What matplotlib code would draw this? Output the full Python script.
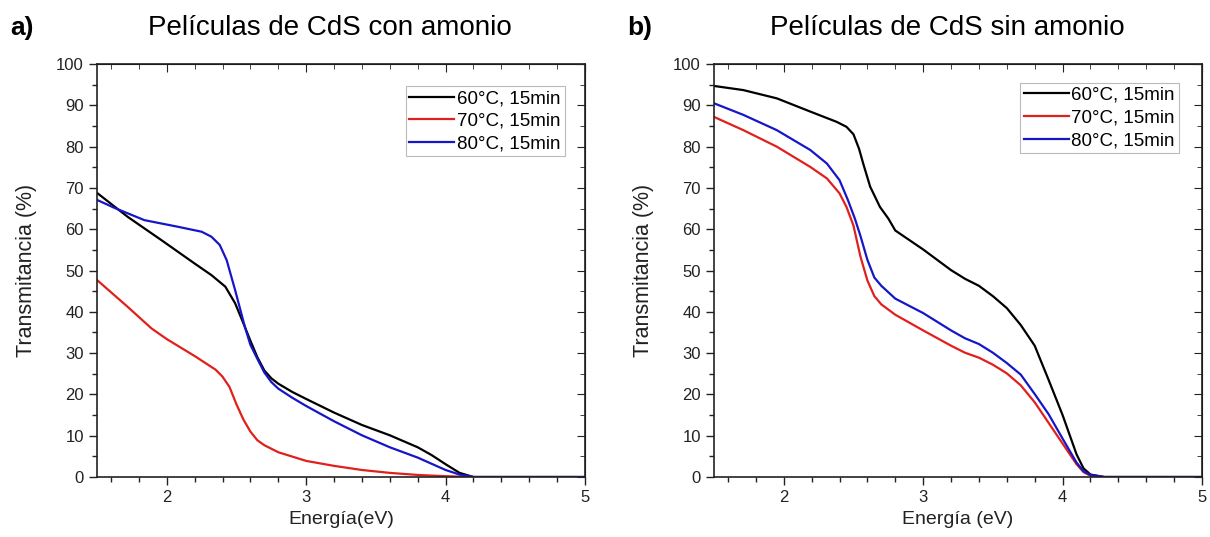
import matplotlib.pyplot as plt
from matplotlib.ticker import MultipleLocator

plt.rcParams['font.family'] = ['Liberation Sans', 'DejaVu Sans']

labels = ["60°C, 15min", "70°C, 15min", "80°C, 15min"]
colors = ["#000000", "#e0201c", "#1616c8"]

# a) con amonio
e_a60 = [1.5, 1.72, 1.96, 2.2, 2.32, 2.42, 2.49, 2.55, 2.6, 2.65, 2.7, 2.75, 2.8, 2.9, 3.0, 3.2, 3.4, 3.6, 3.8, 3.9, 4.0, 4.1, 4.2, 5.0]
t_a60 = [68.8, 63.0, 57.4, 51.7, 48.9, 46.1, 42.1, 37.2, 33.0, 29.0, 25.8, 23.9, 22.6, 20.6, 18.9, 15.6, 12.6, 10.1, 7.2, 5.3, 3.1, 1.0, 0.0, 0.0]
e_a70 = [1.5, 1.72, 1.89, 2.0, 2.2, 2.35, 2.4, 2.45, 2.5, 2.55, 2.6, 2.65, 2.7, 2.8, 3.0, 3.2, 3.4, 3.6, 3.8, 4.0, 4.2, 5.0]
t_a70 = [47.7, 41.2, 36.0, 33.4, 29.3, 26.0, 24.3, 21.8, 17.6, 13.9, 11.0, 8.9, 7.7, 6.0, 3.9, 2.7, 1.7, 1.0, 0.5, 0.2, 0.0, 0.0]
e_a80 = [1.5, 1.63, 1.84, 2.08, 2.25, 2.32, 2.38, 2.43, 2.49, 2.56, 2.6, 2.65, 2.7, 2.75, 2.8, 2.9, 3.0, 3.2, 3.4, 3.6, 3.8, 4.0, 4.1, 4.2, 5.0]
t_a80 = [67.1, 65.1, 62.2, 60.6, 59.4, 58.2, 56.2, 52.5, 45.3, 36.4, 32.0, 28.6, 25.3, 23.0, 21.4, 19.2, 17.2, 13.5, 10.1, 7.2, 4.7, 1.7, 0.6, 0.0, 0.0]

# b) sin amonio
e_b60 = [1.5, 1.71, 1.95, 2.19, 2.38, 2.45, 2.5, 2.54, 2.57, 2.62, 2.69, 2.75, 2.8, 3.0, 3.2, 3.3, 3.4, 3.5, 3.6, 3.7, 3.8, 3.9, 4.0, 4.1, 4.15, 4.2, 4.3, 5.0]
t_b60 = [94.7, 93.7, 91.7, 88.5, 86.0, 84.8, 83.0, 79.5, 75.9, 70.3, 65.4, 62.6, 59.7, 55.1, 50.1, 48.0, 46.3, 43.8, 40.9, 36.8, 31.8, 23.5, 15.0, 5.5, 2.1, 0.6, 0.0, 0.0]
e_b70 = [1.5, 1.71, 1.95, 2.19, 2.31, 2.4, 2.45, 2.5, 2.55, 2.6, 2.65, 2.7, 2.8, 3.0, 3.2, 3.3, 3.4, 3.5, 3.6, 3.7, 3.8, 3.9, 4.0, 4.1, 4.15, 4.2, 4.3, 5.0]
t_b70 = [87.2, 84.0, 80.0, 75.1, 72.3, 68.7, 65.4, 60.9, 53.4, 47.6, 43.8, 41.8, 39.3, 35.5, 31.8, 30.1, 28.9, 27.2, 25.1, 22.2, 18.1, 13.1, 8.1, 3.1, 1.2, 0.3, 0.0, 0.0]
e_b80 = [1.5, 1.71, 1.95, 2.19, 2.31, 2.4, 2.46, 2.51, 2.55, 2.6, 2.65, 2.7, 2.8, 3.0, 3.2, 3.3, 3.4, 3.5, 3.6, 3.7, 3.8, 3.9, 4.0, 4.1, 4.15, 4.2, 4.3, 5.0]
t_b80 = [90.5, 87.7, 84.0, 79.2, 75.9, 71.9, 67.1, 62.6, 58.4, 52.6, 48.3, 46.3, 43.2, 39.7, 35.5, 33.6, 32.2, 30.1, 27.6, 24.8, 20.1, 15.2, 9.3, 3.5, 1.4, 0.5, 0.0, 0.0]

panels = [
    ("a)", "Películas de CdS con amonio", "Energía(eV)",
     [(e_a60, t_a60), (e_a70, t_a70), (e_a80, t_a80)], [0.0802, 0.1117, 0.4033, 0.769], (0.958, 0.946)),
    ("b)", "Películas de CdS sin amonio", "Energía (eV)",
     [(e_b60, t_b60), (e_b70, t_b70), (e_b80, t_b80)], [0.5901, 0.1117, 0.4033, 0.769], (0.952, 0.954)),
]

fig = plt.figure(figsize=(12.1, 5.37), dpi=100)

for tag, title, xlabel, series, rect, legpos in panels:
    ax = fig.add_axes(rect)
    for (e, t), lab, c in zip(series, labels, colors):
        ax.plot(e, t, color=c, lw=1.6, label=lab, solid_joinstyle='round')
    ax.set_xlim(1.5, 5)
    ax.set_ylim(0, 100)
    ax.xaxis.set_major_locator(MultipleLocator(1))
    ax.xaxis.set_minor_locator(MultipleLocator(0.2))
    ax.yaxis.set_major_locator(MultipleLocator(10))
    ax.yaxis.set_minor_locator(MultipleLocator(5))
    ax.tick_params(which='both', direction='out', labelsize=12, color='#222222', width=1,
                   labelcolor='#222222')
    ax.tick_params(which='major', length=6)
    ax.tick_params(which='minor', length=3.5)
    for sp in ax.spines.values():
        sp.set_linewidth(1.2)
        sp.set_color('#222222')
    # inward ticks on top and right, like Origin
    top = ax.secondary_xaxis('top')
    top.xaxis.set_major_locator(MultipleLocator(1))
    top.xaxis.set_minor_locator(MultipleLocator(0.2))
    top.tick_params(which='both', direction='in', labeltop=False, color='#222222')
    top.tick_params(which='major', length=6)
    top.tick_params(which='minor', length=3.5)
    right = ax.secondary_yaxis('right')
    right.yaxis.set_major_locator(MultipleLocator(10))
    right.yaxis.set_minor_locator(MultipleLocator(5))
    right.tick_params(which='both', direction='in', labelright=False, color='#222222')
    right.tick_params(which='major', length=6)
    right.tick_params(which='minor', length=3.5)

    ax.set_xlabel(xlabel, fontsize=14, labelpad=4, color='#222222')
    ax.set_ylabel("Transmitancia (%)", fontsize=15.5, labelpad=14, color='#222222')
    leg = ax.legend(loc='upper right', bbox_to_anchor=legpos, fontsize=13.5,
                    frameon=True, fancybox=False, handlelength=2.4, handletextpad=0.15,
                    borderpad=0.2, labelspacing=0.3, borderaxespad=0)
    leg.get_frame().set_edgecolor('#aaaaaa')
    leg.get_frame().set_linewidth(0.8)

    x0 = rect[0]
    fig.text(x0 - 0.072, 0.947, tag, fontsize=19, fontweight='bold', va='center')
    fig.text(x0 + rect[2] / 2 - 0.009, 0.947, title, fontsize=20, ha='center', va='center')

fig.savefig("out.png", dpi=100)
